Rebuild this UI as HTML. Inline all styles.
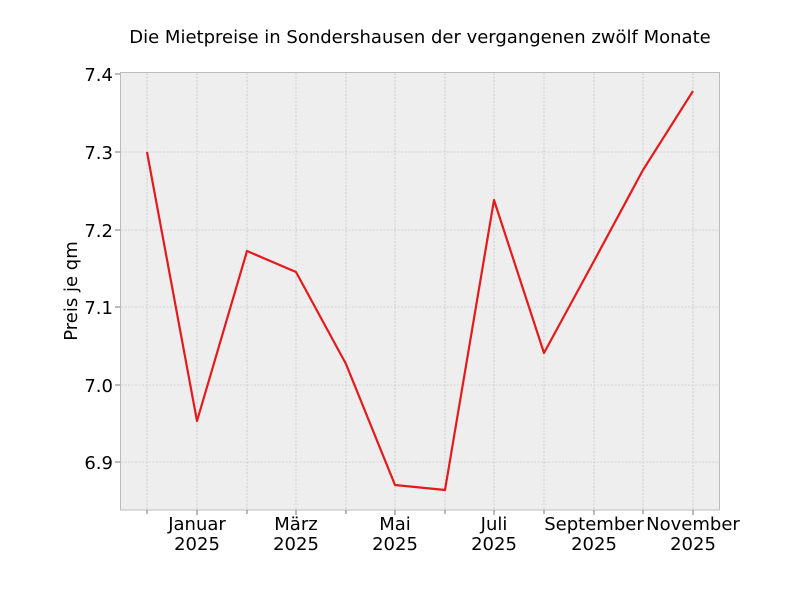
<!DOCTYPE html>
<html><head><meta charset="utf-8"><style>body{margin:0;background:#fff}svg{display:block}text{font-family:"DejaVu Sans","Liberation Sans",sans-serif;fill:#000}</style></head>
<body>
<svg width="800" height="600" viewBox="0 0 800 600">
<rect x="0" y="0" width="800" height="600" fill="#fff"/>
<rect x="120.5" y="72.5" width="599" height="437.5" fill="#eeeeee" stroke="#bcbcbc" stroke-width="1"/>
<g stroke="#b8b8b8" stroke-width="0.6" stroke-dasharray="2,1.5">
<line x1="147" y1="73" x2="147" y2="510"/><line x1="197" y1="73" x2="197" y2="510"/><line x1="247" y1="73" x2="247" y2="510"/><line x1="296" y1="73" x2="296" y2="510"/><line x1="346" y1="73" x2="346" y2="510"/><line x1="395" y1="73" x2="395" y2="510"/><line x1="445" y1="73" x2="445" y2="510"/><line x1="494" y1="73" x2="494" y2="510"/><line x1="544" y1="73" x2="544" y2="510"/><line x1="594" y1="73" x2="594" y2="510"/><line x1="643" y1="73" x2="643" y2="510"/><line x1="693" y1="73" x2="693" y2="510"/>
<line x1="121" y1="152" x2="719" y2="152"/><line x1="121" y1="230" x2="719" y2="230"/><line x1="121" y1="307" x2="719" y2="307"/><line x1="121" y1="385" x2="719" y2="385"/><line x1="121" y1="462" x2="719" y2="462"/>
</g>
<g stroke="#555" stroke-width="0.8">
<line x1="147" y1="510" x2="147" y2="514"/><line x1="197" y1="510" x2="197" y2="515"/><line x1="247" y1="510" x2="247" y2="514"/><line x1="296" y1="510" x2="296" y2="515"/><line x1="346" y1="510" x2="346" y2="514"/><line x1="395" y1="510" x2="395" y2="515"/><line x1="445" y1="510" x2="445" y2="514"/><line x1="494" y1="510" x2="494" y2="515"/><line x1="544" y1="510" x2="544" y2="514"/><line x1="594" y1="510" x2="594" y2="515"/><line x1="643" y1="510" x2="643" y2="514"/><line x1="693" y1="510" x2="693" y2="515"/>
<line x1="115" y1="74" x2="120" y2="74"/><line x1="115" y1="152" x2="120" y2="152"/><line x1="115" y1="230" x2="120" y2="230"/><line x1="115" y1="307" x2="120" y2="307"/><line x1="115" y1="385" x2="120" y2="385"/><line x1="115" y1="462" x2="120" y2="462"/>
</g>
<polyline fill="none" stroke="#e41a1c" stroke-width="2.2" stroke-linejoin="round" points="147,152 197,421 247,251 296,272 346,364 395,485 445,490 494,200 544,353 594,261 643,170 693,91"/>
<g font-size="18" text-anchor="end">
<text x="113" y="81">7.4</text><text x="113" y="159">7.3</text><text x="113" y="237">7.2</text><text x="113" y="314">7.1</text><text x="113" y="392">7.0</text><text x="113" y="469">6.9</text>
</g>
<g font-size="18" text-anchor="middle">
<text x="197" y="530">Januar</text><text x="197" y="550">2025</text>
<text x="296" y="530">März</text><text x="296" y="550">2025</text>
<text x="395" y="530">Mai</text><text x="395" y="550">2025</text>
<text x="494" y="530">Juli</text><text x="494" y="550">2025</text>
<text x="594" y="530">September</text><text x="594" y="550">2025</text>
<text x="693" y="530">November</text><text x="693" y="550">2025</text>
</g>
<text x="77" y="291" font-size="18" text-anchor="middle" transform="rotate(-90 77 291)">Preis je qm</text>
<text x="420" y="43" font-size="18" text-anchor="middle">Die Mietpreise in Sondershausen der vergangenen zwölf Monate</text>
</svg>
</body></html>
